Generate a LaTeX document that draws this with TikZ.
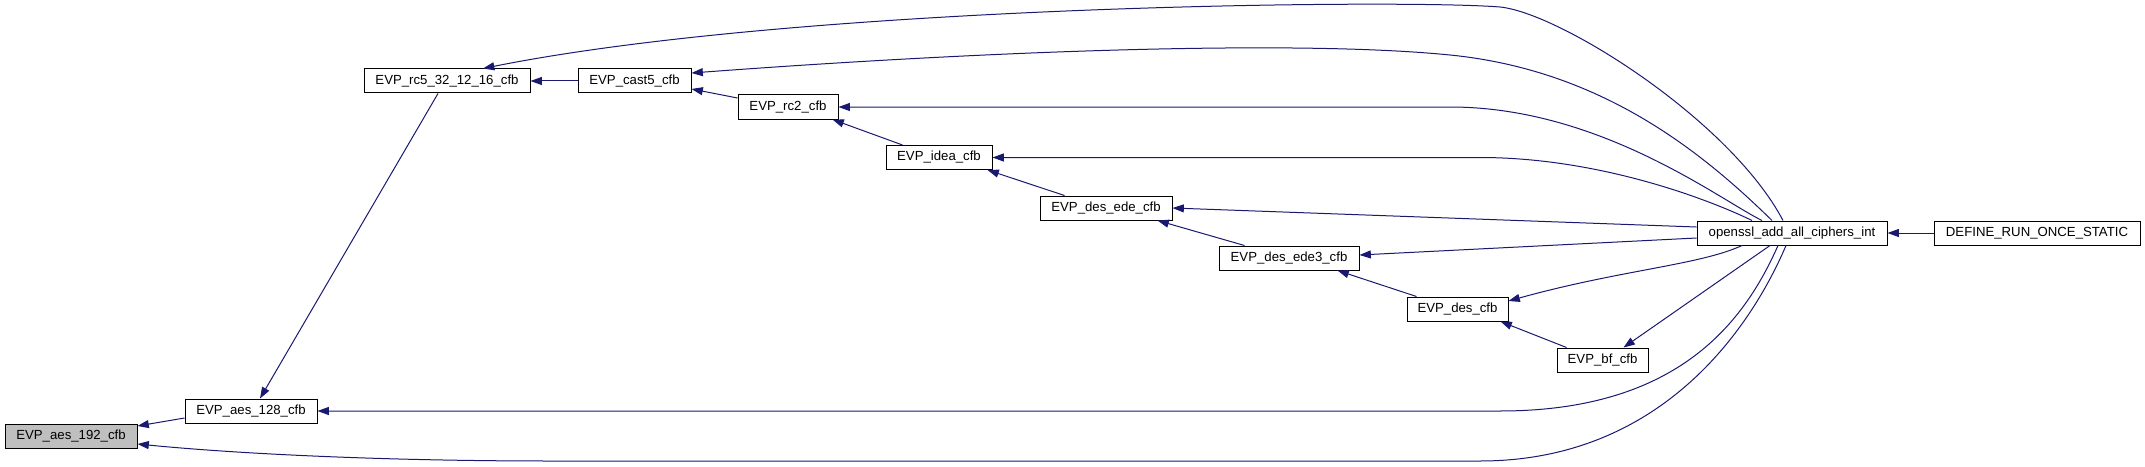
\documentclass[tikz,border=0pt]{standalone}
\usepackage{fontspec}
\setmainfont{Liberation Sans}
\usetikzlibrary{arrows.meta,calc}
\definecolor{edgeblue}{HTML}{191970}
\definecolor{boxgray}{HTML}{BFBFBF}
\begin{document}
\begin{tikzpicture}[x=0.75pt,y=-0.75pt,
  fn/.style={draw=black,line width=0.75pt,rectangle,inner sep=0pt,minimum height=18pt,minimum width=#1*0.75pt,font=\fontsize{9.9}{12}\selectfont},
  e/.style={draw=edgeblue,line width=0.75pt,-{Triangle[length=8.5pt,width=6pt,fill=edgeblue]}}]
\useasboundingbox (0,0) rectangle (2145,467);
\node[fn=132,fill=boxgray] (aes192) at (71,436) {EVP\_aes\_192\_cfb};
\node[fn=132] (aes128) at (251,411) {EVP\_aes\_128\_cfb};
\node[fn=166] (rc5) at (447,81) {EVP\_rc5\_32\_12\_16\_cfb};
\node[fn=113] (cast5) at (634.5,81) {EVP\_cast5\_cfb};
\node[fn=100] (rc2) at (788,107) {EVP\_rc2\_cfb};
\node[fn=106] (idea) at (939,157.5) {EVP\_idea\_cfb};
\node[fn=132] (desede) at (1106,208) {EVP\_des\_ede\_cfb};
\node[fn=140] (desede3) at (1289,258) {EVP\_des\_ede3\_cfb};
\node[fn=101] (des) at (1457.5,309) {EVP\_des\_cfb};
\node[fn=91] (bf) at (1602.5,360) {EVP\_bf\_cfb};
\node[fn=190] (openssl) at (1792,233) {openssl\_add\_all\_ciphers\_int};
\node[fn=206] (define) at (2037,233) {DEFINE\_RUN\_ONCE\_STATIC};

\draw[e] ($(aes128.west)+(0,7)$) -- ($(aes192.east)+(0,-10)$);
\draw[e] ($(openssl.south)+(-6,0)$) .. controls (1750,330) and (1660,461) .. (1480,461) -- (550,461) .. controls (400,461) and (250,455) .. ($(aes192.east)+(0,8)$);
\draw[e] ($(rc5.south)+(-9,0)$) -- ($(aes128.north)+(9,0)$);
\draw[e] ($(openssl.south)+(-14,0)$) .. controls (1745,320) and (1680,411) .. (1500,411) -- (aes128.east);
\draw[e] ($(openssl.north)+(-9,0)$) .. controls (1730,120) and (1560,13) .. (1500,7) .. controls (1400,-1) and (800,5) .. ($(rc5.north)+(36,0)$);
\draw[e] (cast5) -- (rc5);
\draw[e] ($(openssl.north)+(-20,0)$) .. controls (1700,150) and (1600,70) .. (1450,55) .. controls (1300,40) and (1000,50) .. ($(cast5.east)+(0,-8)$);
\draw[e] ($(rc2.west)+(0,-9)$) -- ($(cast5.east)+(0,8)$);
\draw[e] ($(openssl.north)+(-30,0)$) .. controls (1720,200) and (1600,107) .. (1450,107) -- (rc2.east);
\draw[e] ($(idea.north west)+(17,0)$) -- ($(rc2.south east)+(-6,0)$);
\draw[e] ($(openssl.north)+(-40,0)$) .. controls (1710,200) and (1600,157.5) .. (1480,157.5) -- (idea.east);
\draw[e] ($(desede.north west)+(25,0)$) -- ($(idea.south east)+(-5,0)$);
\draw[e] ($(openssl.west)+(0,-6)$) -- (desede.east);
\draw[e] ($(desede3.north west)+(26,0)$) -- ($(desede.south east)+(-15,0)$);
\draw[e] ($(openssl.west)+(0,5)$) -- ($(desede3.east)+(0,-3)$);
\draw[e] ($(des.north west)+(10,0)$) -- ($(desede3.south east)+(-22,0)$);
\draw[e] ($(openssl.south)+(-50,0)$) .. controls (1700,265) and (1620,270) .. ($(des.east)+(0,-8)$);
\draw[e] ($(bf.north west)+(10,0)$) -- ($(des.south east)+(-8,0)$);
\draw[e] ($(openssl.south)+(-22,0)$) -- ($(bf.north east)+(-25,0)$);
\draw[e] (define) -- (openssl);
\end{tikzpicture}
\end{document}
